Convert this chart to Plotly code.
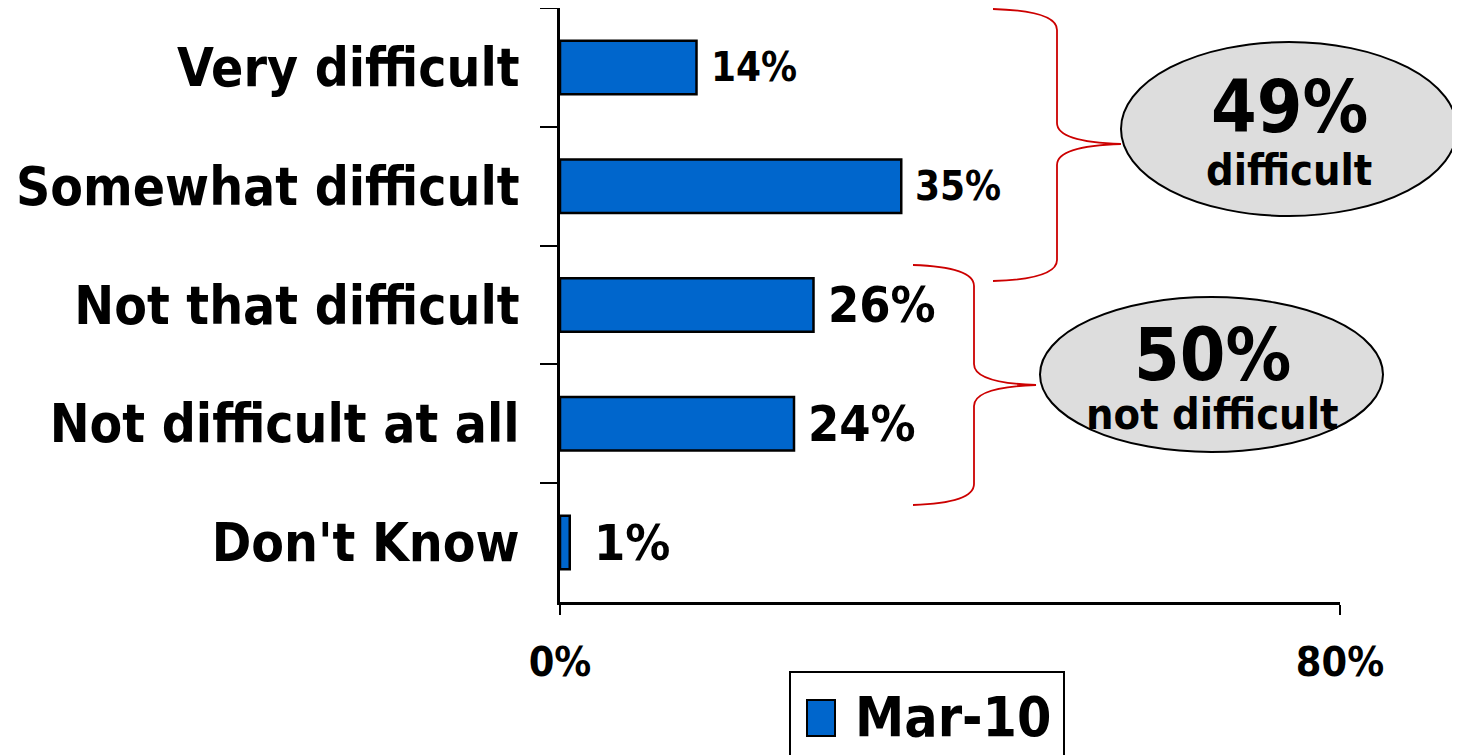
import plotly.graph_objects as go

# ---- data ----
categories = ["Very difficult", "Somewhat difficult", "Not that difficult",
              "Not difficult at all", "Don't Know"]
values = [14, 35, 26, 24, 1]
series_name = "Mar-10"
x_tick_vals = [0, 80]
x_tick_text = ["0%", "80%"]
difficult_label = "difficult"
not_difficult_label = "not difficult"

# ---- style ----
FONT = "DejaVu Sans Condensed, DejaVu Sans"
BAR_COLOR = "#0066CC"
BRACE_COLOR = "#CC0000"
label_sizes = [40, 40, 50, 50, 50]
label_shifts = [12, 12, 12, 12, 22]

OFF = 8  # page body margin
W, H = 1460, 755
L, R, T, B = 552, 128, 0, 161
PW, PH = W - L - R, H - T - B


def px(x):
    return (x - OFF - L) / PW


def py(y):
    return (H - B - (y - OFF)) / PH


def brace(x_end, x_mid, x_tip, y_top, y_bot, y_tip, r=21):
    pts = [
        ("M", [(x_end, y_top)]),
        ("Q", [(x_mid, y_top + 2), (x_mid, y_top + r)]),
        ("L", [(x_mid, y_tip - r)]),
        ("Q", [(x_mid, y_tip - 2), (x_tip, y_tip)]),
        ("Q", [(x_mid, y_tip + 2), (x_mid, y_tip + r)]),
        ("L", [(x_mid, y_bot - r)]),
        ("Q", [(x_mid, y_bot - 2), (x_end, y_bot)]),
    ]
    s = ""
    for cmd, ps in pts:
        s += cmd + " ".join(f"{px(a):.5f},{py(b):.5f}" for a, b in ps) + " "
    return s.strip()


fig = go.Figure()
fig.add_trace(go.Bar(
    y=categories, x=values, orientation="h", name=series_name,
    marker=dict(color=BAR_COLOR, line=dict(color="black", width=2.5)),
    width=0.45, showlegend=False, hoverinfo="x+y",
))

annotations = []
for c, v, s, sh in zip(categories, values, label_sizes, label_shifts):
    annotations.append(dict(
        x=v, y=c, xref="x", yref="y", text=f"{v}%", showarrow=False,
        xanchor="left", yanchor="middle", xshift=sh,
        font=dict(family=FONT, size=s, color="black", weight="bold"),
    ))

difficult_total = values[0] + values[1]
not_difficult_total = values[2] + values[3]

shapes = []
# braces
shapes.append(dict(type="path", xref="paper", yref="paper",
                   path=brace(993, 1057, 1121, 9, 281, 144),
                   line=dict(color=BRACE_COLOR, width=1.8)))
shapes.append(dict(type="path", xref="paper", yref="paper",
                   path=brace(913, 974, 1036, 265, 505, 385),
                   line=dict(color=BRACE_COLOR, width=1.8)))
# ellipses
shapes.append(dict(type="circle", xref="paper", yref="paper",
                   x0=px(1121), x1=px(1457), y0=py(216), y1=py(42),
                   fillcolor="#DDDDDD", line=dict(color="black", width=2)))
shapes.append(dict(type="circle", xref="paper", yref="paper",
                   x0=px(1040), x1=px(1383), y0=py(452), y1=py(297),
                   fillcolor="#DDDDDD", line=dict(color="black", width=2)))
# manual legend
shapes.append(dict(type="rect", xref="paper", yref="paper",
                   x0=px(790), x1=px(1064), y0=py(770), y1=py(672),
                   fillcolor="white", line=dict(color="black", width=2)))
shapes.append(dict(type="rect", xref="paper", yref="paper",
                   x0=px(807), x1=px(835), y0=py(736), y1=py(700),
                   fillcolor=BAR_COLOR, line=dict(color="black", width=2)))

annotations += [
    dict(x=px(1289), y=py(107), xref="paper", yref="paper",
         text=f"{difficult_total}%", showarrow=False,
         xanchor="center", yanchor="middle",
         font=dict(family=FONT, size=73, color="black", weight="bold")),
    dict(x=px(1289), y=py(170), xref="paper", yref="paper",
         text=difficult_label, showarrow=False,
         xanchor="center", yanchor="middle",
         font=dict(family=FONT, size=43, color="black", weight="bold")),
    dict(x=px(1212), y=py(354), xref="paper", yref="paper",
         text=f"{not_difficult_total}%", showarrow=False,
         xanchor="center", yanchor="middle",
         font=dict(family=FONT, size=73, color="black", weight="bold")),
    dict(x=px(1212), y=py(414), xref="paper", yref="paper",
         text=not_difficult_label, showarrow=False,
         xanchor="center", yanchor="middle",
         font=dict(family=FONT, size=43, color="black", weight="bold")),
    dict(x=px(853), y=py(717), xref="paper", yref="paper",
         text=series_name, showarrow=False,
         xanchor="left", yanchor="middle",
         font=dict(family=FONT, size=55, color="black", weight="bold")),
]

fig.update_layout(
    width=W, height=H,
    margin=dict(l=L, r=R, t=T, b=B, autoexpand=False),
    plot_bgcolor="white", paper_bgcolor="white",
    showlegend=False,
    shapes=shapes, annotations=annotations,
    xaxis=dict(range=[0, 80], tickvals=x_tick_vals, ticktext=x_tick_text,
               showgrid=False, zeroline=False, showline=True,
               linecolor="black", linewidth=2.5,
               ticks="outside", ticklen=10, tickwidth=2, tickcolor="black",
               ticklabelstandoff=12,
               tickfont=dict(family=FONT, size=41, color="black", weight="bold")),
    yaxis=dict(categoryorder="array", categoryarray=categories,
               autorange="reversed", showgrid=False, zeroline=False,
               showline=True, linecolor="black", linewidth=2.5,
               ticks="outside", tickson="boundaries", ticklen=17,
               tickwidth=2, tickcolor="black", ticklabelstandoff=27,
               tickfont=dict(family=FONT, size=53, color="black", weight="bold")),
)

fig.write_html("out.html")
